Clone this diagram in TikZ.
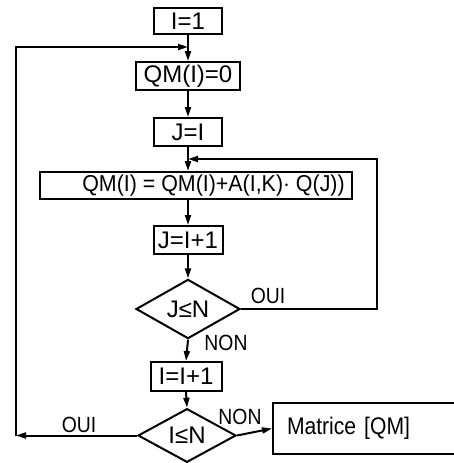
\documentclass[tikz,border=0pt]{standalone}
\usepackage{fontspec}
\setmainfont{Liberation Sans}
\newfontfamily\narrowfont[FakeStretch=0.88]{Liberation Sans}
\newfontfamily\slimfont[FakeStretch=0.93]{Liberation Sans}
\usetikzlibrary{arrows.meta,shapes.geometric}
\begin{document}
\begin{tikzpicture}[x=1pt,y=-1pt,line width=2pt,
  every node/.style={font=\fontsize{24}{26}\selectfont,inner sep=0pt},
  box/.style={draw,rectangle},
  arr/.style={-{Triangle[length=10pt,width=6pt]}},
  lab/.style={font=\narrowfont\fontsize{22}{24}\selectfont}]
\useasboundingbox (0,0) rectangle (454,463);
\node[box,minimum width=68,minimum height=26] (n1) at (188,21) {I=1};
\node[box,minimum width=104,minimum height=28] (n2) at (188,76) {QM(I)=0};
\node[box,minimum width=68,minimum height=28] (n3) at (188,132) {J=I};
\node[box,minimum width=312,minimum height=27,font=\slimfont\fontsize{23}{25}\selectfont] (n4) at (196,185.5) {\hspace*{35pt}QM(I) = QM(I)+A(I,K)$\cdot$ Q(J))};
\node[box,minimum width=69,minimum height=28] (n5) at (188,240) {J=I+1};
\node[draw,diamond,minimum width=104,minimum height=52,inner sep=0pt] (d1) at (188,309) {J≤N};
\node[box,minimum width=71,minimum height=29] (n6) at (186,376.5) {I=I+1};
\node[draw,diamond,minimum width=98,minimum height=53,inner sep=0pt] (d2) at (187,435.5) {I≤N};
\node[box,anchor=west,minimum width=200,minimum height=51,text width=172,align=left,inner xsep=14pt,font=\narrowfont\fontsize{24}{26}\selectfont] (m) at (272,428.5) {Matrice [QM]};
\coordinate (cL) at (16,435.5);
\coordinate (cT) at (16,47);
\coordinate (cR) at (377,309);
\coordinate (jT) at (188,47);
\coordinate (jR) at (188,159);
\draw[arr] (n1.south) -- (n2.north);
\draw[arr] (n2.south) -- (n3.north);
\draw[arr] (n3.south) -- (n3.south |- n4.north);
\draw[arr] (n4.south -| n5.north) -- (n5.north);
\draw[arr] (n5.south) -- (d1.north);
\draw[arr] (d1.south) -- (n6.north);
\draw[arr] (n6.south) -- (d2.north);
\draw[arr] (d2.east) -- (m.west);
\draw[arr] (d2.west) -- (cL);
\draw[arr] (cL) -- (cT) -- (jT);
\draw[arr] (d1.east) -- (cR) |- (jR);
\node[lab] (l1) at (268,296) {OUI};
\node[lab] (l2) at (226,343) {NON};
\node[lab] (l3) at (79,425) {OUI};
\node[lab] (l4) at (240,417) {NON};
\end{tikzpicture}
\end{document}
